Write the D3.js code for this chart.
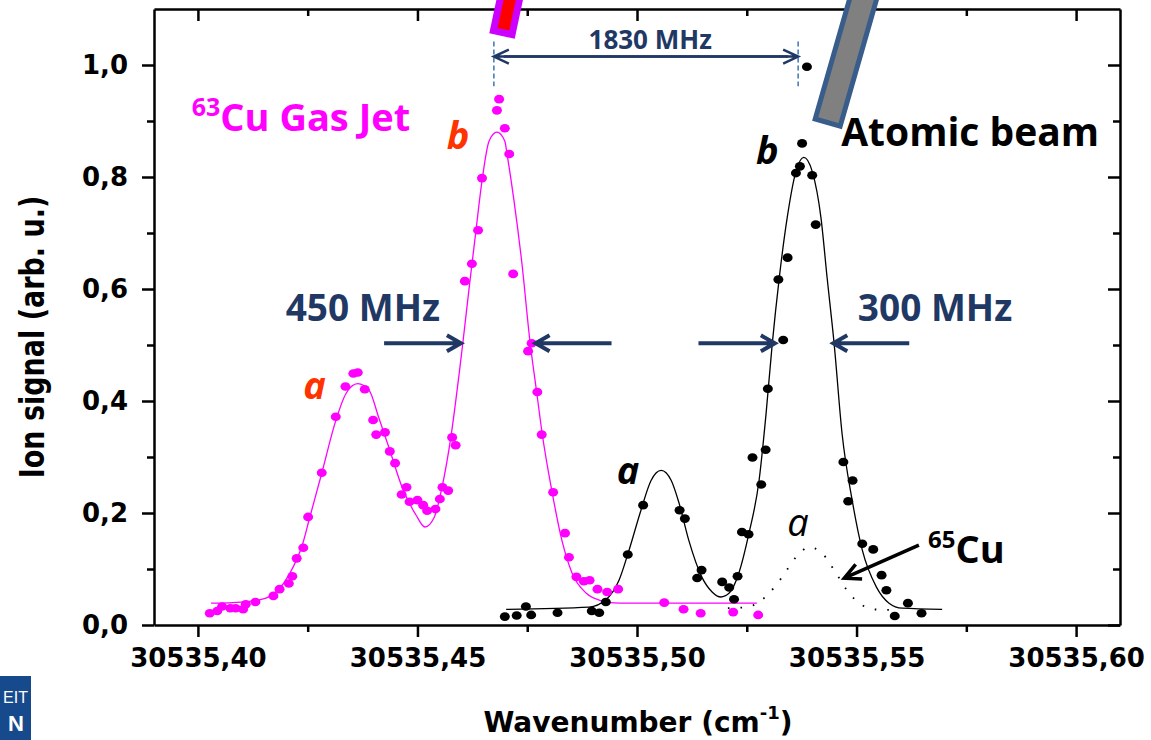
<!DOCTYPE html>
<html>
<head>
<meta charset="utf-8">
<script src="https://cdn.jsdelivr.net/npm/d3@7"></script>
<style>
  body { margin: 0; background: #fff; }
  svg { display: block; }
</style>
</head>
<body>
<div id="chart"><svg></svg></div>
<script>
const width = 1151, height = 740;

// axis ticks
const xTicks = [30535.40, 30535.45, 30535.50, 30535.55, 30535.60];
const xMinorTicks = [30535.425, 30535.475, 30535.525, 30535.575];
const yTicks = [0, 0.2, 0.4, 0.6, 0.8, 1.0];
const yMinorTicks = [0.1, 0.3, 0.5, 0.7, 0.9];

// 63Cu gas jet: measured points [wavenumber, ion signal]
const gasJetPoints = [
  [30535.4027, 0.021], [30535.4044, 0.025], [30535.4055, 0.033], [30535.4074, 0.030],
  [30535.4086, 0.030], [30535.4103, 0.028], [30535.4109, 0.037], [30535.4131, 0.041],
  [30535.4172, 0.052], [30535.4186, 0.064], [30535.4207, 0.074], [30535.4215, 0.087],
  [30535.4225, 0.119], [30535.4240, 0.138], [30535.4251, 0.193], [30535.4282, 0.272],
  [30535.4314, 0.372], [30535.4336, 0.426], [30535.4354, 0.449], [30535.4364, 0.451],
  [30535.4380, 0.421], [30535.4399, 0.366], [30535.4406, 0.340], [30535.4426, 0.344],
  [30535.4437, 0.310], [30535.4449, 0.289], [30535.4464, 0.233], [30535.4475, 0.246],
  [30535.4482, 0.220], [30535.4500, 0.223], [30535.4513, 0.214], [30535.4522, 0.204],
  [30535.4541, 0.207], [30535.4551, 0.225], [30535.4557, 0.246], [30535.4570, 0.240],
  [30535.4579, 0.335], [30535.4587, 0.321], [30535.4608, 0.614], [30535.4624, 0.645],
  [30535.4638, 0.705], [30535.4647, 0.798], [30535.4681, 0.919], [30535.4686, 0.939],
  [30535.4699, 0.887], [30535.4709, 0.841], [30535.4718, 0.627], [30535.4752, 0.489],
  [30535.4760, 0.503], [30535.4773, 0.416], [30535.4783, 0.340], [30535.4809, 0.237],
  [30535.4836, 0.164], [30535.4845, 0.121], [30535.4862, 0.086], [30535.4879, 0.078],
  [30535.4892, 0.080], [30535.4910, 0.064], [30535.4932, 0.059], [30535.4957, 0.064],
  [30535.5062, 0.040], [30535.5106, 0.028], [30535.5145, 0.021], [30535.5219, 0.023],
  [30535.5276, 0.018]
];

// 63Cu gas jet: fitted curve
const gasJetFit = [
  [30535.4030, 0.039], [30535.4100, 0.041], [30535.4155, 0.048], [30535.4207, 0.089],
  [30535.4239, 0.146], [30535.4253, 0.187], [30535.4282, 0.271], [30535.4314, 0.365],
  [30535.4337, 0.413], [30535.4364, 0.431], [30535.4390, 0.419], [30535.4412, 0.370],
  [30535.4435, 0.317], [30535.4465, 0.246], [30535.4497, 0.196], [30535.4517, 0.175],
  [30535.4538, 0.192], [30535.4556, 0.246], [30535.4576, 0.335], [30535.4595, 0.449],
  [30535.4604, 0.508], [30535.4617, 0.597], [30535.4633, 0.703], [30535.4647, 0.793],
  [30535.4663, 0.864], [30535.4681, 0.880], [30535.4699, 0.864], [30535.4704, 0.841],
  [30535.4720, 0.757], [30535.4738, 0.645], [30535.4756, 0.508], [30535.4772, 0.413],
  [30535.4784, 0.342], [30535.4806, 0.240], [30535.4829, 0.151], [30535.4852, 0.093],
  [30535.4884, 0.057], [30535.4920, 0.043], [30535.4959, 0.039], [30535.5273, 0.039]
];

// atomic beam: measured points
const beamPoints = [
  [30535.4699, 0.015], [30535.4726, 0.017], [30535.4747, 0.033], [30535.4759, 0.018],
  [30535.4819, 0.022], [30535.4897, 0.025], [30535.4914, 0.022], [30535.4929, 0.041],
  [30535.4979, 0.126], [30535.5014, 0.214], [30535.5097, 0.205], [30535.5109, 0.190],
  [30535.5137, 0.084], [30535.5147, 0.098], [30535.5194, 0.077], [30535.5210, 0.067],
  [30535.5221, 0.046], [30535.5229, 0.087], [30535.5239, 0.166], [30535.5254, 0.162],
  [30535.5263, 0.299], [30535.5283, 0.251], [30535.5293, 0.313], [30535.5298, 0.422],
  [30535.5322, 0.617], [30535.5333, 0.509], [30535.5343, 0.656], [30535.5362, 0.807],
  [30535.5371, 0.819], [30535.5376, 0.860], [30535.5387, 0.997], [30535.5399, 0.803],
  [30535.5407, 0.715], [30535.5470, 0.291], [30535.5481, 0.221], [30535.5491, 0.258],
  [30535.5513, 0.145], [30535.5538, 0.135], [30535.5557, 0.089], [30535.5568, 0.062],
  [30535.5587, 0.016], [30535.5617, 0.039], [30535.5648, 0.021]
];

// atomic beam: fitted curve
const beamFit = [
  [30535.4702, 0.028], [30535.4891, 0.032], [30535.4929, 0.045], [30535.4959, 0.080],
  [30535.4982, 0.134], [30535.5009, 0.205], [30535.5032, 0.258], [30535.5055, 0.276],
  [30535.5078, 0.258], [30535.5096, 0.217], [30535.5118, 0.151], [30535.5148, 0.085],
  [30535.5171, 0.059], [30535.5191, 0.050], [30535.5210, 0.057], [30535.5232, 0.093],
  [30535.5255, 0.164], [30535.5278, 0.258], [30535.5294, 0.378], [30535.5308, 0.502],
  [30535.5324, 0.620], [30535.5342, 0.727], [30535.5362, 0.810], [30535.5380, 0.835],
  [30535.5399, 0.810], [30535.5419, 0.727], [30535.5433, 0.620], [30535.5449, 0.502],
  [30535.5467, 0.342], [30535.5490, 0.223], [30535.5513, 0.134], [30535.5545, 0.068],
  [30535.5574, 0.039], [30535.5604, 0.030], [30535.5695, 0.028]
];

// 65Cu component "a" (dotted)
const cu65Fit = [
  [30535.5207, 0.030], [30535.5251, 0.032], [30535.5278, 0.041], [30535.5301, 0.057],
  [30535.5330, 0.085], [30535.5362, 0.121], [30535.5392, 0.139], [30535.5422, 0.128],
  [30535.5453, 0.093], [30535.5483, 0.057], [30535.5522, 0.032], [30535.5558, 0.027],
  [30535.5574, 0.027]
];

const navy = "#1f3864";
const magenta = "#ff00ff";
const orange = "#ff3300";

const svg = d3.select("#chart svg")
  .attr("width", width)
  .attr("height", height);

const x = d3.scaleLinear()
  .domain([30535.39, 30535.61])
  .range([154, 1120]);
const y = d3.scaleLinear()
  .domain([0, 1.1])
  .range([625, 9]);

const fmt = d => d.toFixed(d > 100 ? 2 : 1).replace(".", ",");

function styleAxis(g) {
  g.attr("font-family", "DejaVu Sans").attr("font-weight", "bold").attr("font-size", 26);
  g.select(".domain").attr("stroke-width", 2.5);
  g.selectAll(".tick line").attr("stroke-width", 2.5);
  g.selectAll(".tick text").attr("fill", "#000");
}
function minorOnly(g) {
  g.select(".domain").remove();
  g.selectAll(".tick line").attr("stroke-width", 2.5);
}

// bottom + left axes with labels
svg.append("g")
  .attr("transform", "translate(0,625)")
  .call(d3.axisBottom(x).tickValues(xTicks).tickSize(12).tickSizeOuter(0).tickPadding(12).tickFormat(fmt))
  .call(styleAxis);
svg.append("g")
  .attr("transform", "translate(0,625)")
  .call(d3.axisBottom(x).tickValues(xMinorTicks).tickSize(7).tickFormat(""))
  .call(minorOnly);
svg.append("g")
  .attr("transform", "translate(154,0)")
  .call(d3.axisLeft(y).tickValues(yTicks).tickSize(12).tickSizeOuter(0).tickPadding(14).tickFormat(fmt))
  .call(styleAxis);
svg.append("g")
  .attr("transform", "translate(154,0)")
  .call(d3.axisLeft(y).tickValues(yMinorTicks).tickSize(7).tickFormat(""))
  .call(minorOnly);

// top + right mirror axes, ticks inward
svg.append("g")
  .attr("transform", "translate(0,9)")
  .call(d3.axisTop(x).tickValues(xTicks).tickSize(-12).tickSizeOuter(0).tickFormat(""))
  .call(styleAxis);
svg.append("g")
  .attr("transform", "translate(0,9)")
  .call(d3.axisTop(x).tickValues(xMinorTicks).tickSize(-7).tickFormat(""))
  .call(minorOnly);
svg.append("g")
  .attr("transform", "translate(1120,0)")
  .call(d3.axisRight(y).tickValues(yTicks).tickSize(-12).tickSizeOuter(0).tickFormat(""))
  .call(styleAxis);
svg.append("g")
  .attr("transform", "translate(1120,0)")
  .call(d3.axisRight(y).tickValues(yMinorTicks).tickSize(-7).tickFormat(""))
  .call(minorOnly);

// axis titles
svg.append("text")
  .attr("transform", "translate(44,337) scale(1.25,1) rotate(-90)")
  .attr("text-anchor", "middle")
  .attr("font-family", "DejaVu Sans")
  .attr("font-weight", "bold")
  .attr("font-size", 27)
  .text("Ion signal (arb. u.)");

const xTitle = svg.append("text")
  .attr("x", 638)
  .attr("y", 732)
  .attr("text-anchor", "middle")
  .attr("font-family", "DejaVu Sans")
  .attr("font-weight", "bold")
  .attr("font-size", 28);
xTitle.append("tspan").text("Wavenumber (cm");
xTitle.append("tspan").attr("font-size", 18).attr("dy", -13).text("-1");
xTitle.append("tspan").attr("dy", 13).text(")");

// fit curves
const line = d3.line()
  .x(d => x(d[0]))
  .y(d => y(d[1]))
  .curve(d3.curveMonotoneX);

svg.append("path")
  .datum(gasJetFit)
  .attr("fill", "none")
  .attr("stroke", magenta)
  .attr("stroke-width", 1.3)
  .attr("d", line);
svg.append("path")
  .datum(beamFit)
  .attr("fill", "none")
  .attr("stroke", "#000")
  .attr("stroke-width", 1.3)
  .attr("d", line);
svg.append("path")
  .datum(cu65Fit)
  .attr("fill", "none")
  .attr("stroke", "#000")
  .attr("stroke-width", 1.8)
  .attr("stroke-dasharray", "1.6,11")
  .attr("d", line);

// measured points
svg.selectAll("ellipse.gasjet")
  .data(gasJetPoints)
  .enter().append("ellipse")
  .attr("class", "gasjet")
  .attr("cx", d => x(d[0]))
  .attr("cy", d => y(d[1]))
  .attr("rx", 5)
  .attr("ry", 4.3)
  .attr("fill", magenta);
svg.selectAll("ellipse.beam")
  .data(beamPoints)
  .enter().append("ellipse")
  .attr("class", "beam")
  .attr("cx", d => x(d[0]))
  .attr("cy", d => y(d[1]))
  .attr("rx", 5)
  .attr("ry", 4.3)
  .attr("fill", "#000");

// arrows: open V heads
function arrow(x1, y1, x2, y2, color, w, len, half) {
  const a = Math.atan2(y2 - y1, x2 - x1);
  const bx = x2 - len * Math.cos(a), by = y2 - len * Math.sin(a);
  const px = -Math.sin(a) * half, py = Math.cos(a) * half;
  svg.append("path")
    .attr("d", `M${x1},${y1}L${x2},${y2}M${bx + px},${by + py}L${x2},${y2}L${bx - px},${by - py}`)
    .attr("fill", "none")
    .attr("stroke", color)
    .attr("stroke-width", w)
    .attr("stroke-linejoin", "miter");
}

// FWHM arrows
const fwhmY = 0.503;
[[30535.4424, 30535.4599], [30535.4942, 30535.4769],
 [30535.5140, 30535.5314], [30535.5620, 30535.5447]].forEach(([from, to]) => {
  arrow(x(from), y(fwhmY), x(to), y(fwhmY), navy, 4, 14, 8);
});

// 1830 MHz splitting
const jetPeak = 30535.4674, beamPeak = 30535.5367;
[jetPeak, beamPeak].forEach(v => {
  svg.append("line")
    .attr("x1", x(v)).attr("x2", x(v))
    .attr("y1", y(1.042)).attr("y2", y(0.962))
    .attr("stroke", "#4a7ebb")
    .attr("stroke-width", 1.6)
    .attr("stroke-dasharray", "5,3");
});
arrow(x(beamPeak) - 10, y(1.015), x(jetPeak), y(1.015), navy, 2.5, 15, 7);
arrow(x(jetPeak) + 10, y(1.015), x(beamPeak), y(1.015), navy, 2.5, 15, 7);

// 65Cu pointer
arrow(x(30535.5642), y(0.1425), x(30535.5472), y(0.0837), "#000", 3.5, 16, 8);

// text labels
function label(v, s, txt, color, size, style, weight) {
  return svg.append("text")
    .attr("x", x(v))
    .attr("y", y(s))
    .attr("font-family", "Open Sans")
    .attr("font-size", size)
    .attr("font-style", style || "normal")
    .attr("font-weight", weight || "bold")
    .attr("fill", color)
    .text(txt);
}

const jetLabel = label(30535.3986, 0.882, null, magenta, 38);
jetLabel.append("tspan").attr("font-size", 25).attr("dy", -15).text("63");
jetLabel.append("tspan").attr("dy", 15).text("Cu Gas Jet");

label(30535.4567, 0.8495, "b", orange, 38, "italic");
label(30535.4240, 0.404, "a", orange, 38, "italic");
label(30535.4954, 0.252, "a", "#000", 38, "italic");
label(30535.5271, 0.823, "b", "#000", 38, "italic");
label(30535.5342, 0.159, "a", "#000", 38, "italic", "normal");

const cuLabel = label(30535.5663, 0.110, null, "#000", 38);
cuLabel.append("tspan").attr("font-size", 24).attr("dy", -15).text("65");
cuLabel.append("tspan").attr("dy", 15).text("Cu");

label(30535.5465, 0.855, "Atomic beam", "#000", 39);
label(30535.4200, 0.543, "450 MHz", navy, 37);
label(30535.5503, 0.543, "300 MHz", navy, 37);
label(30535.5030, 1.029, "1830 MHz", navy, 26).attr("text-anchor", "middle");

// laser beam bar (gas jet) and atomic beam bar
svg.append("g")
  .attr("transform", "translate(502,36) rotate(12)")
  .append("rect")
  .attr("x", -9.5).attr("y", -90)
  .attr("width", 19).attr("height", 86.5)
  .attr("fill", "#ff0000")
  .attr("stroke", "#cc00ff")
  .attr("stroke-width", 7);
svg.append("g")
  .attr("transform", "translate(827,125) rotate(16)")
  .append("rect")
  .attr("x", -13).attr("y", -200)
  .attr("width", 26).attr("height", 197.5)
  .attr("fill", "#808080")
  .attr("stroke", "#385d8a")
  .attr("stroke-width", 5);

// logo block in the corner
svg.append("rect")
  .attr("x", 0).attr("y", 676)
  .attr("width", 31).attr("height", 64)
  .attr("fill", "#174a8c");
svg.append("text")
  .attr("x", 28).attr("y", 703)
  .attr("text-anchor", "end")
  .attr("font-family", "Liberation Sans")
  .attr("font-size", 16)
  .attr("fill", "#fff")
  .text("EIT");
svg.append("text")
  .attr("x", 24).attr("y", 731)
  .attr("text-anchor", "end")
  .attr("font-family", "Liberation Sans")
  .attr("font-weight", "bold")
  .attr("font-size", 22)
  .attr("fill", "#fff")
  .text("N");
</script>
</body>
</html>
